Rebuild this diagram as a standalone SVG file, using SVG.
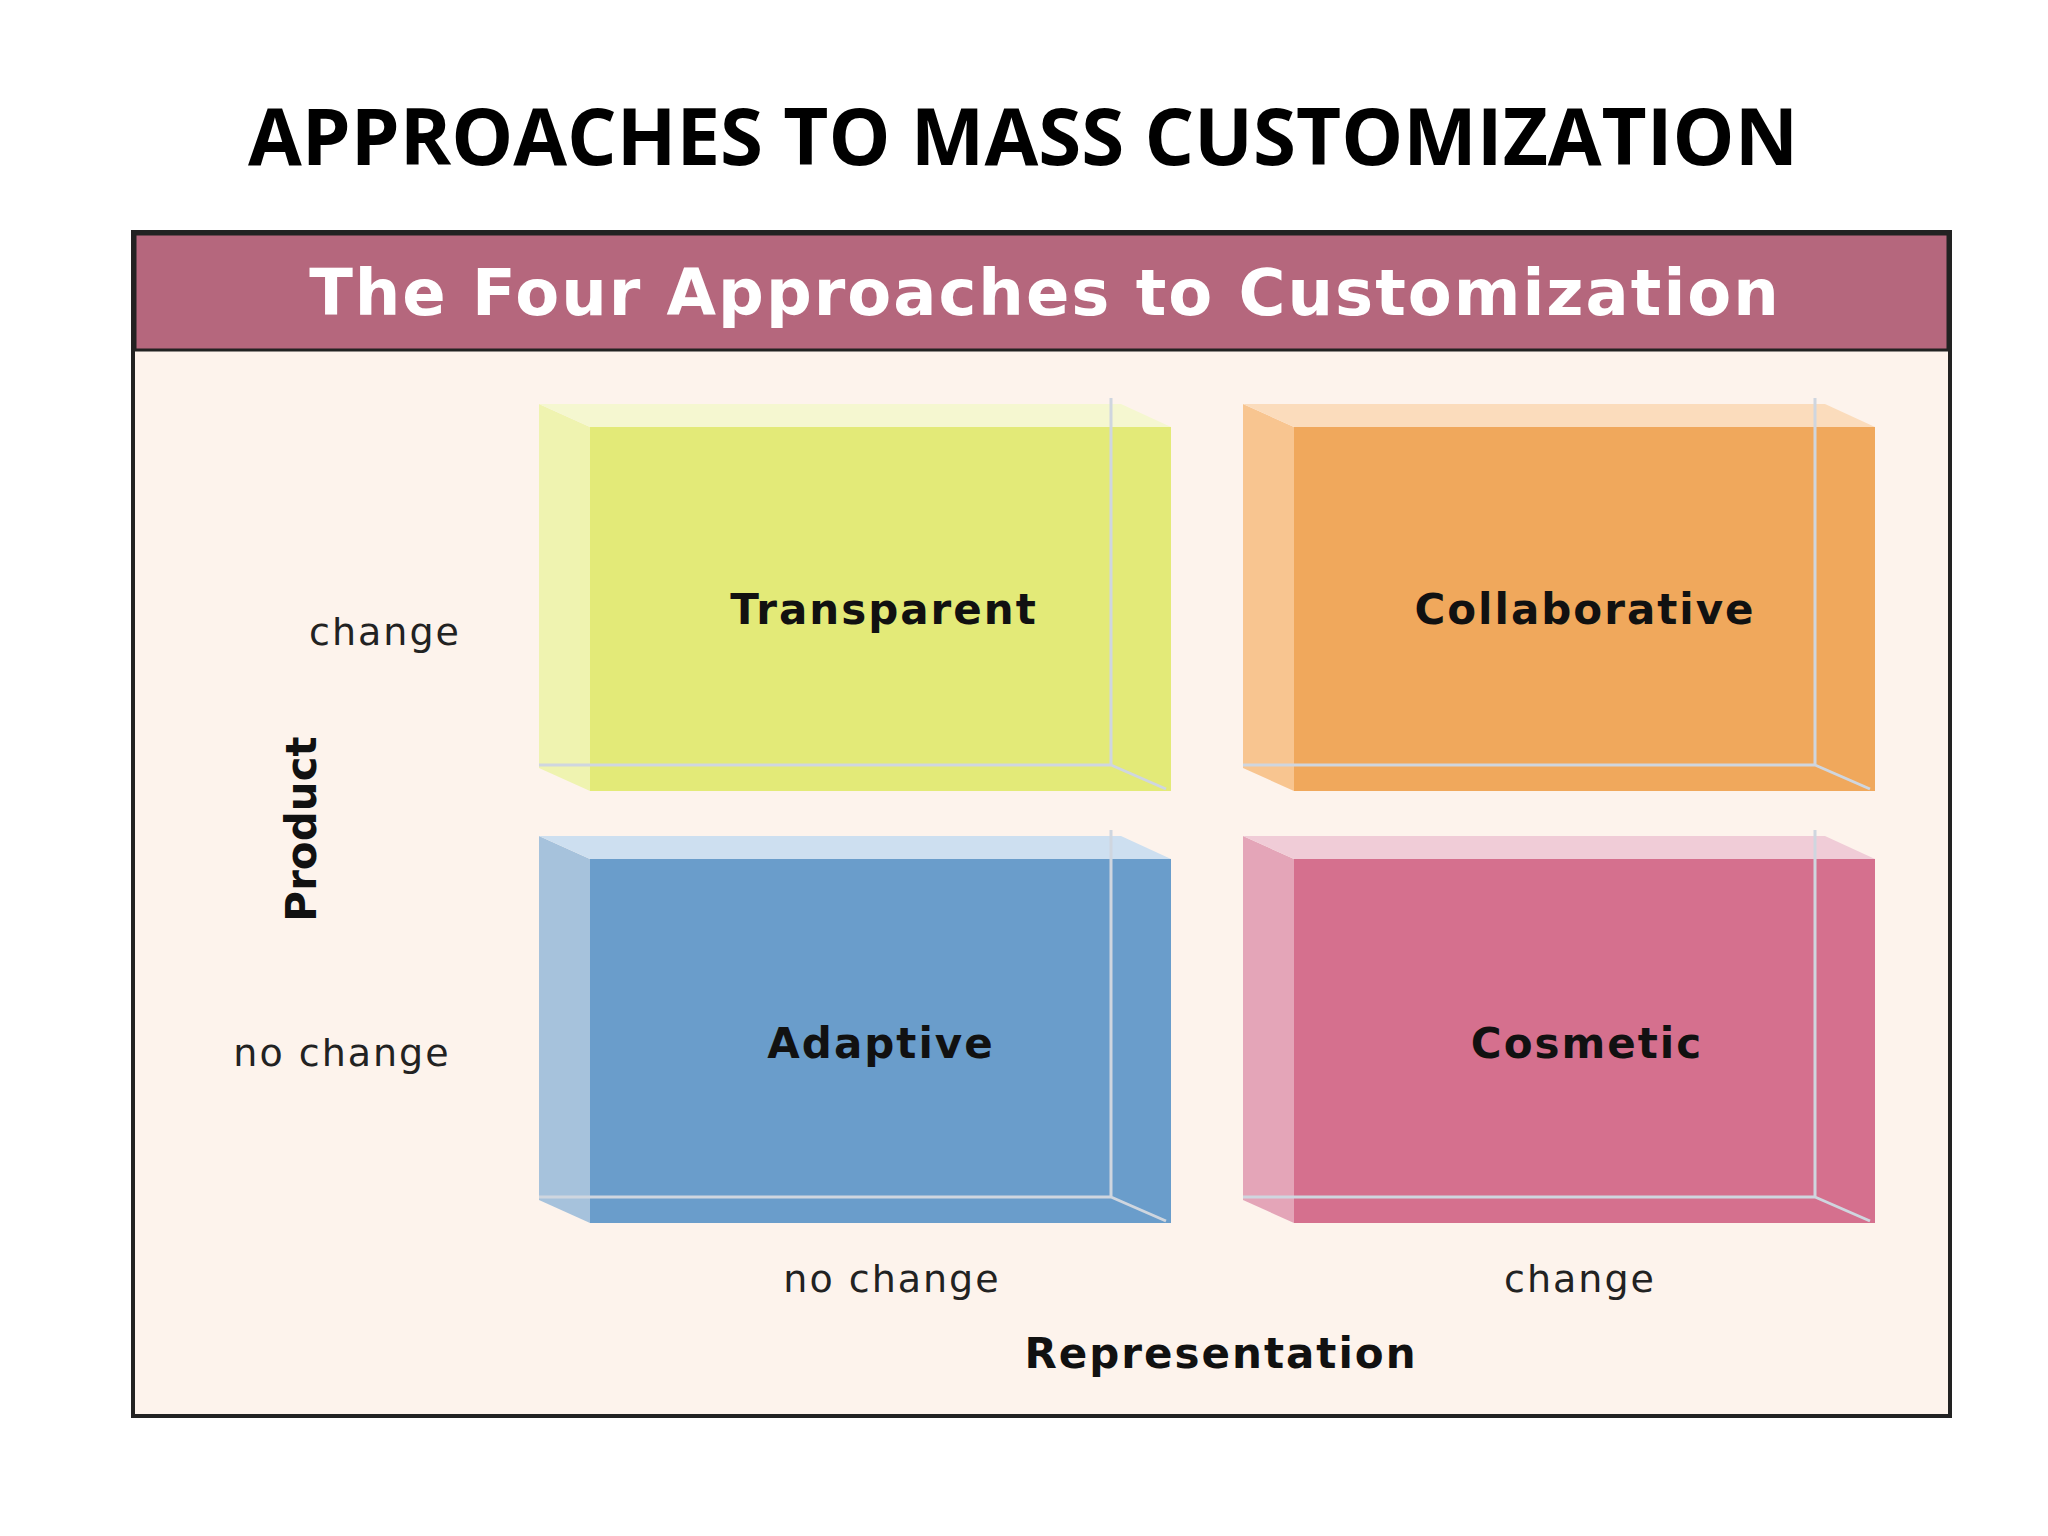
<svg xmlns="http://www.w3.org/2000/svg" width="2048" height="1536" viewBox="0 0 2048 1536">
<style>
.ax{font-family:"DejaVu Sans",sans-serif;font-size:38px;fill:#222;letter-spacing:2px}
.lb{font-family:"DejaVu Sans",sans-serif;font-weight:bold;font-size:42px;fill:#111;text-anchor:middle;letter-spacing:2px}
.ln{stroke:#cfd6df;stroke-width:3;fill:none}
</style>
<rect width="2048" height="1536" fill="#fff"/>
<text x="1023" y="165" text-anchor="middle" font-family="'Open Sans','Liberation Sans',sans-serif" font-weight="bold" font-size="78" fill="#000">APPROACHES TO MASS CUSTOMIZATION</text>
<rect x="133" y="232" width="1817" height="1184" fill="#fdf3ec" stroke="#222" stroke-width="4"/>
<rect x="135" y="234" width="1813" height="116" fill="#b5677d" stroke="#222" stroke-width="3"/>
<text x="1045" y="315" text-anchor="middle" font-family="'DejaVu Sans',sans-serif" font-weight="bold" font-size="64" fill="#fff" letter-spacing="2">The Four Approaches to Customization</text>
<g id="transparent">
<polygon points="539,404 590,427 590,791 539,768" fill="#eff3b0"/>
<polygon points="539,404 1121,404 1171,427 590,427" fill="#f5f7d0"/>
<rect x="590" y="427" width="581" height="364" fill="#e3ea78"/>
<path class="ln" d="M1111,398V765H539M1111,765L1166,789"/>
<text class="lb" x="884" y="624">Transparent</text>
</g>
<g id="collaborative">
<polygon points="1243,404 1294,427 1294,791 1243,768" fill="#f8c590"/>
<polygon points="1243,404 1825,404 1875,427 1294,427" fill="#fbdcbc"/>
<rect x="1294" y="427" width="581" height="364" fill="#f0a85c"/>
<path class="ln" d="M1815,398V765H1243M1815,765L1870,789"/>
<text class="lb" x="1585" y="624">Collaborative</text>
</g>
<g id="adaptive">
<polygon points="539,836 590,859 590,1223 539,1200" fill="#a6c2dc"/>
<polygon points="539,836 1121,836 1171,859 590,859" fill="#cddff0"/>
<rect x="590" y="859" width="581" height="364" fill="#6a9dcb"/>
<path class="ln" d="M1111,830V1197H539M1111,1197L1166,1221"/>
<text class="lb" x="881" y="1058">Adaptive</text>
</g>
<g id="cosmetic">
<polygon points="1243,836 1294,859 1294,1223 1243,1200" fill="#e4a5b8"/>
<polygon points="1243,836 1825,836 1875,859 1294,859" fill="#f0ccd7"/>
<rect x="1294" y="859" width="581" height="364" fill="#d5708e"/>
<path class="ln" d="M1815,830V1197H1243M1815,1197L1870,1221"/>
<text class="lb" x="1587" y="1058">Cosmetic</text>
</g>
<g id="connectors"/>
<g id="axes">
<text class="ax" x="385" y="645" text-anchor="middle">change</text>
<text class="ax" x="342" y="1066" text-anchor="middle">no change</text>
<text class="ax" x="892" y="1292" text-anchor="middle">no change</text>
<text class="ax" x="1580" y="1292" text-anchor="middle">change</text>
<text x="1221" y="1368" text-anchor="middle" font-family="'DejaVu Sans',sans-serif" font-weight="bold" font-size="42" fill="#111" letter-spacing="2">Representation</text>
<text transform="translate(316,829) rotate(-90)" text-anchor="middle" font-family="'DejaVu Sans',sans-serif" font-weight="bold" font-size="42" fill="#111">Product</text>
</g>
</svg>
